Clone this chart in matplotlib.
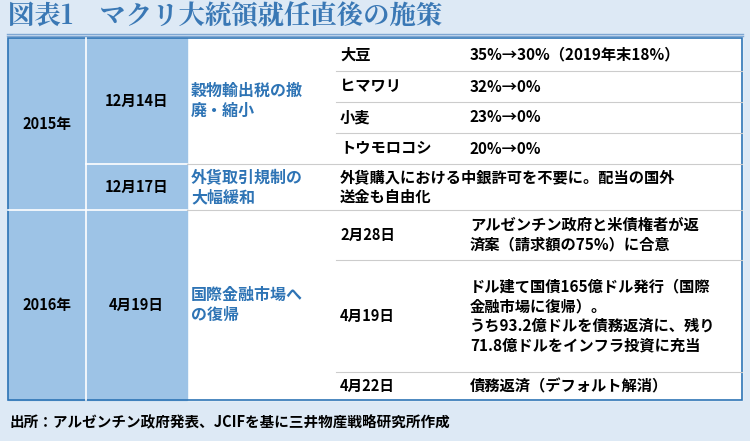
import matplotlib
matplotlib.use("Agg")
import matplotlib.pyplot as plt
from matplotlib.patches import Rectangle

FONT = "Noto Sans CJK JP"
title = "図表1　マクリ大統領就任直後の施策"
source = "出所：アルゼンチン政府発表、JCIFを基に三井物産戦略研究所作成"
years = ["2015年", "2016年"]
dates = ["12月14日", "12月17日", "4月19日"]
measures = ["穀物輸出税の撤\n廃・縮小", "外貨取引規制の\n大幅緩和", "国際金融市場へ\nの復帰"]
crops = ["大豆", "ヒマワリ", "小麦", "トウモロコシ"]
crop_rates = ["35%→30%（2019年末18%）", "32%→0%", "23%→0%", "20%→0%"]
fx_text = "外貨購入における中銀許可を不要に。配当の国外\n送金も自由化"
sub_dates = ["2月28日", "4月19日", "4月22日"]
sub_texts = ["アルゼンチン政府と米債権者が返\n済案（請求額の75%）に合意",
             "ドル建て国債165億ドル発行（国際\n金融市場に復帰）。\nうち93.2億ドルを債務返済に、残り\n71.8億ドルをインフラ投資に充当",
             "債務返済（デフォルト解消）"]

BG = "#dde9f5"; CELL = "#9dc3e6"; BLUE = "#2e74b5"
fig = plt.figure(figsize=(7.5, 4.41), dpi=100)
ax = fig.add_axes([0, 0, 1, 1])
ax.set_xlim(0, 750); ax.set_ylim(441, 0); ax.axis("off")
ax.add_patch(Rectangle((0, 0), 750, 441, color=BG))
ax.text(8, 17, title, fontsize=19, color="#3a78b5", fontweight="bold",
        family="Noto Serif CJK JP", va="center")
ax.plot([7, 743], [34, 34], color="#7fa7d3", lw=1)
ax.plot([7, 743], [36, 36], color="#7fa7d3", lw=1)

xs = [8, 86, 187, 336, 462, 742]
y0, y1 = 38, 400
ax.add_patch(Rectangle((xs[0], y0), xs[5]-xs[0], y1-y0, color="white"))
ax.add_patch(Rectangle((xs[0], y0), xs[2]-xs[0], y1-y0, color=CELL))
crop_ys = [38, 71, 102, 133, 164]
for y in crop_ys[1:4]:
    ax.plot([xs[3], xs[5]], [y, y], color="#cccccc", lw=0.8)
sub_ys = [210, 260, 372, 400]
for y in sub_ys[1:3]:
    ax.plot([xs[3], xs[5]], [y, y], color="#cccccc", lw=0.8)
ax.plot([xs[0], xs[2]], [210, 210], color="white", lw=1.2)
ax.plot([xs[2], xs[5]], [210, 210], color="#cccccc", lw=0.8)
ax.plot([xs[1], xs[1]], [y0, y1], color="white", lw=1.2)
ax.plot([xs[1], xs[2]], [164, 164], color="white", lw=1.2)
ax.plot([xs[2], xs[5]], [164, 164], color="#cccccc", lw=0.8)
ax.add_patch(Rectangle((xs[0], y0), xs[5]-xs[0], y1-y0, fill=False, ec=BLUE, lw=1.2))

kw = dict(family=FONT, fontweight="bold", va="center")
ax.text((xs[0]+xs[1])/2, 124, years[0], ha="center", fontsize=10.5, **kw)
ax.text((xs[0]+xs[1])/2, 305, years[1], ha="center", fontsize=10.5, **kw)
ax.text((xs[1]+xs[2])/2, 101, dates[0], ha="center", fontsize=10.5, **kw)
ax.text((xs[1]+xs[2])/2, 187, dates[1], ha="center", fontsize=10.5, **kw)
ax.text((xs[1]+xs[2])/2, 305, dates[2], ha="center", fontsize=10.5, **kw)
for m, y in zip(measures, [101, 187, 305]):
    ax.text(xs[2]+4, y, m, ha="left", fontsize=11.5, color=BLUE, linespacing=1.3, **kw)
for i, (c, r) in enumerate(zip(crops, crop_rates)):
    yc = (crop_ys[i]+crop_ys[i+1])/2
    ax.text(xs[3]+4, yc, c, fontsize=11, **kw)
    ax.text(xs[4]+8, yc, r, fontsize=11, **kw)
ax.text(xs[3]+4, 187, fx_text, fontsize=11, linespacing=1.3, **kw)
for i, (d, t) in enumerate(zip(sub_dates, sub_texts)):
    yc = (sub_ys[i]+sub_ys[i+1])/2
    ax.text(xs[3]+4, yc, d, fontsize=10.5, **kw)
    ax.text(xs[4]+8, yc, t, fontsize=11, linespacing=1.3, **kw)
ax.text(10, 422, source, fontsize=10.5, **kw)
fig.savefig("out.png", dpi=100)
